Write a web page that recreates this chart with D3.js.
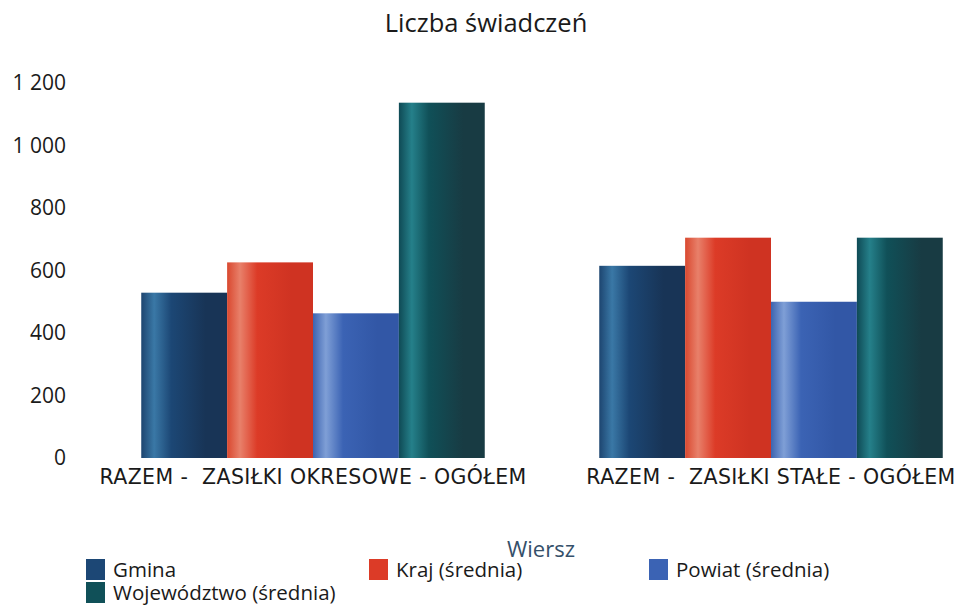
<!DOCTYPE html>
<html>
<head>
<meta charset="utf-8">
<script src="https://cdn.jsdelivr.net/npm/d3@7"></script>
<style>
  body { margin: 0; background: #fff; }
  text { font-family: "Open Sans", "Noto Sans", sans-serif; }
</style>
</head>
<body>
<div id="chart"></div>
<script>
// data
const categories = ['RAZEM -  ZASIŁKI OKRESOWE - OGÓŁEM', 'RAZEM -  ZASIŁKI STAŁE - OGÓŁEM'];
const seriesNames = ['Gmina', 'Kraj (średnia)', 'Powiat (średnia)', 'Województwo (średnia)'];
const gmina = [529, 615];
const kraj = [626, 705];
const powiat = [463, 500];
const wojewodztwo = [1137, 705];
const yTicks = [0, 200, 400, 600, 800, 1000, 1200];

// cylinder-ish shading: [edge, highlight, base, dark]
const shades = [
  ['#1d4570', '#3a78a6', '#1c4775', '#183456'],
  ['#d9482f', '#e8806a', '#dc3b27', '#cf3322'],
  ['#3d64b0', '#7f9fd6', '#3b63b4', '#3257a6'],
  ['#0f4a55', '#25808a', '#105058', '#183b43']
];

const width = 965, height = 605;
const values = [gmina, kraj, powiat, wojewodztwo];
const data = categories.map((c, i) => ({
  cat: c,
  vals: seriesNames.map((s, j) => ({ key: s, idx: j, value: values[j][i] }))
}));

const svg = d3.select('#chart').append('svg')
  .attr('width', width)
  .attr('height', height);

const defs = svg.append('defs');
shades.forEach((s, i) => {
  const g = defs.append('linearGradient').attr('id', `g${i}`)
    .attr('x1', '0%').attr('x2', '100%').attr('y1', '0%').attr('y2', '0%');
  g.append('stop').attr('offset', '0%').attr('stop-color', s[0]);
  g.append('stop').attr('offset', '15%').attr('stop-color', s[1]);
  g.append('stop').attr('offset', '35%').attr('stop-color', s[2]);
  g.append('stop').attr('offset', '75%').attr('stop-color', s[3]);
  g.append('stop').attr('offset', '100%').attr('stop-color', s[3]);
});

const x0 = d3.scaleBand()
  .domain(categories)
  .range([84, 1000])
  .paddingInner(0.25)
  .paddingOuter(0.125);

const x1 = d3.scaleBand()
  .domain(seriesNames)
  .range([0, x0.bandwidth()]);

const y = d3.scaleLinear()
  .domain([0, 1200])
  .range([458, 83]);

// TITLE
svg.append('text')
  .attr('x', 486).attr('y', 32)
  .attr('text-anchor', 'middle')
  .attr('font-size', 25.5)
  .attr('fill', '#1a1a1a')
  .text('Liczba świadczeń');

// Y AXIS
const yAxis = svg.append('g')
  .attr('transform', 'translate(66,0)')
  .call(d3.axisLeft(y).tickValues(yTicks).tickSize(0).tickPadding(0)
    .tickFormat(d => d3.format(',')(d).replace(',', ' ')));
yAxis.select('.domain').remove();
yAxis.selectAll('text')
  .attr('font-size', 21)
  .attr('fill', '#1a1a1a');

// BARS
const groups = svg.append('g').selectAll('g')
  .data(data).enter()
  .append('g')
  .attr('transform', d => `translate(${x0(d.cat)},0)`);

groups.selectAll('rect')
  .data(d => d.vals).enter()
  .append('rect')
  .attr('x', d => x1(d.key))
  .attr('width', x1.bandwidth())
  .attr('y', d => y(d.value))
  .attr('height', d => y(0) - y(d.value))
  .attr('fill', d => `url(#g${d.idx})`);

// X AXIS
const xAxis = svg.append('g')
  .attr('transform', `translate(0,${y(0)})`)
  .call(d3.axisBottom(x0).tickSize(0).tickPadding(0));
xAxis.select('.domain').remove();
xAxis.selectAll('text')
  .attr('dy', '1.28em')
  .attr('font-size', 20.5)
  .attr('fill', '#1a1a1a')
  .style('font-family', '"DejaVu Sans", sans-serif')
  .style('letter-spacing', '0.4px')
  .style('white-space', 'pre');

svg.append('text')
  .attr('x', 541).attr('y', 557)
  .attr('text-anchor', 'middle')
  .attr('font-size', 22)
  .attr('fill', '#35506a')
  .text('Wiersz');

// LEGEND
const legendPos = [[86, 559], [369, 559], [649, 559], [86, 582]];
const legend = svg.append('g').selectAll('g')
  .data(seriesNames).enter()
  .append('g')
  .attr('transform', (d, i) => `translate(${legendPos[i][0]},${legendPos[i][1]})`);

legend.append('rect')
  .attr('x', 0).attr('y', 0)
  .attr('width', 19).attr('height', 21)
  .attr('fill', (d, i) => shades[i][2]);

legend.append('text')
  .attr('x', 27).attr('y', 18)
  .attr('font-size', 20.5)
  .attr('fill', '#1a1a1a')
  .text(d => d);
</script>
</body>
</html>
